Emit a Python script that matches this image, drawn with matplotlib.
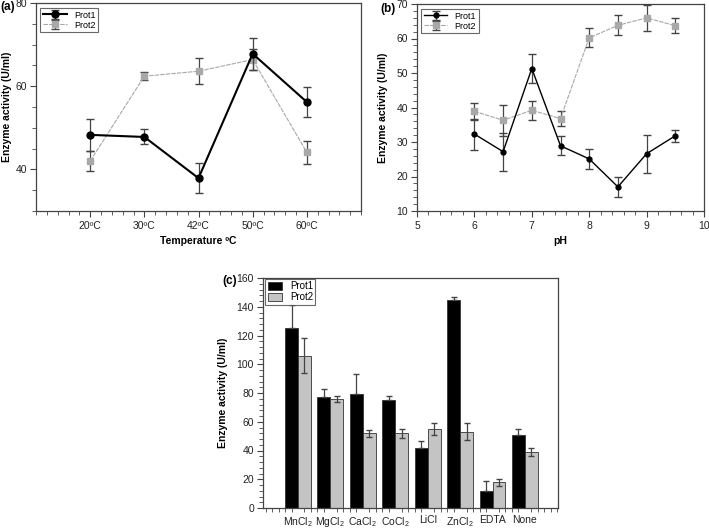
import matplotlib
matplotlib.use("Agg")
import matplotlib.pyplot as plt
import numpy as np
from matplotlib.ticker import MultipleLocator

# (a) temperature
temps = ["20ºC", "30ºC", "42ºC", "50ºC", "60ºC"]
temp_prot1 = [48.3, 47.8, 37.9, 67.8, 56.2]
temp_prot1_err = [3.9, 1.8, 3.6, 3.8, 3.6]
temp_prot2 = [42.0, 62.4, 63.6, 66.4, 44.1]
temp_prot2_err = [2.4, 1.0, 3.1, 2.6, 2.7]

# (b) pH
ph = [6, 6.5, 7, 7.5, 8, 8.5, 9, 9.5]
ph_prot1 = [32.3, 27.2, 51.3, 28.9, 25.1, 17.0, 26.6, 31.8]
ph_prot1_err = [4.5, 5.5, 4.3, 2.8, 2.9, 2.9, 5.5, 1.7]
ph_prot2 = [38.9, 36.3, 39.2, 36.8, 60.2, 63.8, 66.0, 63.7]
ph_prot2_err = [2.5, 4.5, 2.8, 2.3, 2.7, 2.9, 3.8, 2.2]

# (c) metal ions
ions = ["MnCl$_2$", "MgCl$_2$", "CaCl$_2$", "CoCl$_2$", "LiCl", "ZnCl$_2$", "EDTA", "None"]
ion_prot1 = [125, 77, 79, 75, 42, 145, 12, 51]
ion_prot1_err = [16, 6, 14.5, 3, 4.5, 1.5, 7, 4]
ion_prot2 = [106, 76, 52, 52, 55, 53, 18, 39]
ion_prot2_err = [12, 2, 2.5, 3, 4, 6, 2.5, 3]

plt.rcParams.update({
    "font.family": ["Liberation Sans", "DejaVu Sans"],
    "font.size": 7.5,
    "mathtext.default": "regular",
    "axes.edgecolor": "#444444",
    "axes.linewidth": 0.9,
    "xtick.color": "#444444",
    "ytick.color": "#444444",
    "xtick.labelcolor": "#222222",
    "ytick.labelcolor": "#222222",
    "xtick.direction": "out",
    "ytick.direction": "out",
    "xtick.major.size": 4,
    "ytick.major.size": 4,
    "xtick.minor.size": 3,
    "ytick.minor.size": 3,
    "xtick.major.pad": 3,
    "ytick.major.pad": 2.5,
})

W, H = 709, 528
fig = plt.figure(figsize=(W / 100, H / 100), dpi=100)


def px_axes(left, top, right, bottom):
    return fig.add_axes([left / W, 1 - bottom / H, (right - left) / W, (bottom - top) / H])


P1 = "black"
P2 = "#a8a8a8"
ERR = "#444444"

# ---- (a)
ax = px_axes(36, 3, 361, 211)
xa = np.arange(1, len(temps) + 1)
ax.errorbar(xa, temp_prot2, yerr=temp_prot2_err, color=P2, lw=0.8, ls=(0, (4, 1)),
            marker="s", ms=4, ecolor=ERR, elinewidth=0.9, capsize=3, label="Prot2", zorder=2)
ax.errorbar(xa, temp_prot1, yerr=temp_prot1_err, color=P1, lw=1.5,
            marker="o", ms=5, ecolor=ERR, elinewidth=0.9, capsize=3, label="Prot1", zorder=3)
ax.set_xlim(0, 6)
ax.set_ylim(30, 80)
ax.set_xticks(xa)
ax.set_xticklabels(temps)
ax.xaxis.set_minor_locator(MultipleLocator(0.2))
ax.yaxis.set_major_locator(MultipleLocator(20))
ax.yaxis.set_minor_locator(MultipleLocator(5))
ax.set_xlabel("Temperature ºC", fontweight="bold", fontsize=7.5, labelpad=4)
ax.set_ylabel("Enzyme activity (U/ml)", fontweight="bold", fontsize=7.5)
ax.yaxis.set_label_coords(-24 / 325, 0.5)
h, l = ax.get_legend_handles_labels()
leg = ax.legend(h[::-1], l[::-1], loc="upper left", bbox_to_anchor=(0.008, 0.985),
                fancybox=False, edgecolor="#444444", fontsize=6.5, handlelength=2.6,
                borderpad=0.3, labelspacing=0.1, borderaxespad=0.2)
leg.get_frame().set_linewidth(0.8)
fig.text(0 / W, 1 - 7 / H, "(a)", fontweight="bold", fontsize=8.5, va="center", ha="left")

# ---- (b)
ax = px_axes(417, 4, 704, 211)
ax.errorbar(ph, ph_prot2, yerr=ph_prot2_err, color=P2, lw=0.8, ls=(0, (4, 1)),
            marker="s", ms=4, ecolor=ERR, elinewidth=0.9, capsize=3, label="Prot2", zorder=2)
ax.errorbar(ph, ph_prot1, yerr=ph_prot1_err, color=P1, lw=1.0,
            marker="o", ms=3.5, ecolor=ERR, elinewidth=0.9, capsize=3, label="Prot1", zorder=3)
ax.set_xlim(5, 10)
ax.set_ylim(10, 70)
ax.xaxis.set_major_locator(MultipleLocator(1))
ax.xaxis.set_minor_locator(MultipleLocator(0.2))
ax.yaxis.set_major_locator(MultipleLocator(10))
ax.yaxis.set_minor_locator(MultipleLocator(2))
ax.set_xlabel("pH", fontweight="bold", fontsize=7.5, labelpad=4)
ax.set_ylabel("Enzyme activity (U/ml)", fontweight="bold", fontsize=7.5, labelpad=6)
h, l = ax.get_legend_handles_labels()
leg = ax.legend(h[::-1], l[::-1], loc="upper left", bbox_to_anchor=(0.008, 0.985),
                fancybox=False, edgecolor="#444444", fontsize=6.5, handlelength=2.6,
                borderpad=0.3, labelspacing=0.1, borderaxespad=0.2)
leg.get_frame().set_linewidth(0.8)
fig.text(380 / W, 1 - 9 / H, "(b)", fontweight="bold", fontsize=8.5, va="center", ha="left")

# ---- (c)
ax = px_axes(263, 278, 558, 508)
xc = np.arange(len(ions))
bw = 0.4
ax.bar(xc - bw / 2, ion_prot1, bw, color="black", edgecolor="#333333", lw=0.6,
       yerr=[np.zeros(len(ion_prot1_err)), ion_prot1_err],
       error_kw=dict(ecolor=ERR, elinewidth=0.9, capsize=2.5), label="Prot1")
ax.bar(xc + bw / 2, ion_prot2, bw, color="#c4c4c4", edgecolor="#333333", lw=0.6,
       yerr=ion_prot2_err, error_kw=dict(ecolor=ERR, elinewidth=0.9, capsize=2.5), label="Prot2")
ax.set_xlim(-1.08, 8.02)
ax.set_ylim(0, 160)
ax.set_xticks(xc)
ax.set_xticklabels(ions, fontsize=7.5)
ax.tick_params(axis="x", which="major", length=0, pad=5)
ax.xaxis.set_minor_locator(MultipleLocator(0.2))
ax.yaxis.set_major_locator(MultipleLocator(20))
ax.yaxis.set_minor_locator(MultipleLocator(4))
ax.set_ylabel("Enzyme activity (U/ml)", fontweight="bold", fontsize=7.5, labelpad=6)
leg = ax.legend(loc="upper left", bbox_to_anchor=(0.004, 1.0), fancybox=False,
                edgecolor="#444444", fontsize=7, handlelength=1.5, handleheight=0.8,
                borderpad=0.25, labelspacing=0.1, borderaxespad=0.1)
leg.get_frame().set_linewidth(0.8)
fig.text(222 / W, 1 - 281 / H, "(c)", fontweight="bold", fontsize=8.5, va="center", ha="left")

fig.savefig("out.png", dpi=100)
